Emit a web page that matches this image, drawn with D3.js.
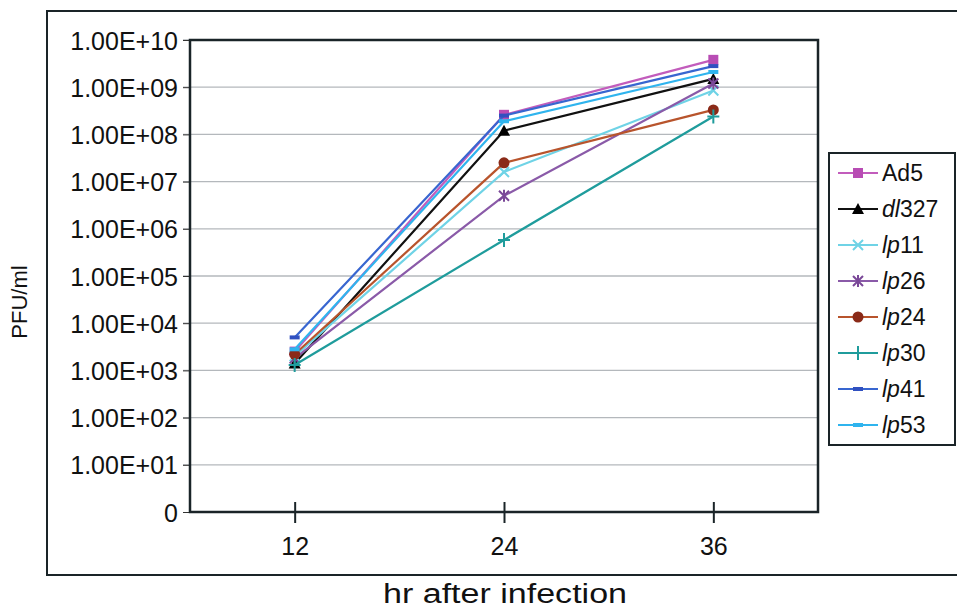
<!DOCTYPE html>
<html>
<head>
<meta charset="utf-8">
<title>PFU/ml over time</title>
<script src="https://cdn.jsdelivr.net/npm/d3@7"></script>
<style>
body { margin: 0; background: #fff; }
text { font-family: 'Liberation Sans', Arial, sans-serif; fill: #111; }
</style>
</head>
<body>
<svg id="chart" width="957" height="611"></svg>
<script>
// data
var hours = [12, 24, 36];
var seriesNames = ['Ad5', 'dl327', 'lp11', 'lp26', 'lp24', 'lp30', 'lp41', 'lp53'];
var ad5   = [2.5e3, 2.6e8, 3.8e9];
var dl327 = [1.4e3, 1.2e8, 1.5e9];
var lp11  = [2.0e3, 1.6e7, 8.5e8];
var lp26  = [1.8e3, 5.0e6, 1.2e9];
var lp24  = [2.2e3, 2.5e7, 3.3e8];
var lp30  = [1.3e3, 5.8e5, 2.4e8];
var lp41  = [5.0e3, 2.5e8, 2.8e9];
var lp53  = [2.8e3, 1.9e8, 2.1e9];
var yTicks = [1, 1e1, 1e2, 1e3, 1e4, 1e5, 1e6, 1e7, 1e8, 1e9, 1e10];

var values = [ad5, dl327, lp11, lp26, lp24, lp30, lp41, lp53];
var lineColors = ['#c25cbc', '#111111', '#6fd3e6', '#8a5aa8', '#b8542c', '#1f9c9c', '#3866d0', '#2fb4ee'];
var markColors = ['#b84cb4', '#000000', '#6fd3e6', '#7a4898', '#8a2a18', '#1f9c9c', '#3050c0', '#2fb4ee'];
var shapes = ['square', 'triangle', 'x', 'star', 'circle', 'plus', 'dash', 'dash'];

var svg = d3.select('#chart');
var pLeft = 190, pRight = 818, pTop = 40, pBottom = 512;

// outer frame
svg.append('rect')
	.attr('x', 47).attr('y', 11)
	.attr('width', 920).attr('height', 564)
	.attr('fill', 'none').attr('stroke', '#1a2428').attr('stroke-width', 2);

var x = d3.scalePoint().domain(hours).range([pLeft, pRight]).padding(0.5);
var y = d3.scaleLog().domain([1, 1e10]).range([pBottom, pTop]);

// gridlines
svg.selectAll('.grid')
	.data(yTicks.slice(1))
	.enter()
	.append('line')
	.attr('x1', pLeft - 7).attr('x2', pRight)
	.attr('y1', function(d) { return y(d); })
	.attr('y2', function(d) { return y(d); })
	.attr('stroke', '#b4b8bc').attr('stroke-width', 1.3);

// y axis
var yAxis = d3.axisLeft(y)
	.tickValues(yTicks)
	.tickSize(7)
	.tickPadding(5)
	.tickFormat(function(d) {
		if (d === 1) return '0';
		return '1.00E+' + d3.format('02d')(Math.round(Math.log10(d)));
	});
var gy = svg.append('g').attr('transform', 'translate(' + pLeft + ',0)').call(yAxis);
gy.select('.domain').remove();
gy.selectAll('line').attr('stroke', '#333');
gy.selectAll('text').style('font-size', '25px').attr('dy', '0.36em');

// x axis
var xAxis = d3.axisBottom(x).tickSizeInner(11).tickSizeOuter(0).tickPadding(14);
var gx = svg.append('g').attr('transform', 'translate(0,' + pBottom + ')').call(xAxis);
gx.select('.domain').remove();
gx.selectAll('.tick line').attr('y1', -10).attr('stroke', '#1a2428').attr('stroke-width', 2);
gx.selectAll('text').style('font-size', '25px');

// plot frame
svg.append('rect')
	.attr('x', pLeft).attr('y', pTop)
	.attr('width', pRight - pLeft).attr('height', pBottom - pTop)
	.attr('fill', 'none').attr('stroke', '#1a2428').attr('stroke-width', 2.5);

function drawMark(g, shape, color, cx, cy) {
	if (shape === 'square') {
		g.append('rect').attr('x', cx - 5).attr('y', cy - 5).attr('width', 10).attr('height', 10).attr('fill', color);
	} else if (shape === 'triangle') {
		g.append('path').attr('d', 'M' + cx + ',' + (cy - 6) + 'L' + (cx + 6) + ',' + (cy + 5) + 'L' + (cx - 6) + ',' + (cy + 5) + 'Z').attr('fill', color);
	} else if (shape === 'circle') {
		g.append('circle').attr('cx', cx).attr('cy', cy).attr('r', 5.5).attr('fill', color);
	} else {
		var p = '';
		if (shape === 'x' || shape === 'star') p += 'M' + (cx - 5) + ',' + (cy - 5) + 'L' + (cx + 5) + ',' + (cy + 5) + 'M' + (cx + 5) + ',' + (cy - 5) + 'L' + (cx - 5) + ',' + (cy + 5);
		if (shape === 'star') p += 'M' + cx + ',' + (cy - 6) + 'L' + cx + ',' + (cy + 6);
		if (shape === 'plus') p += 'M' + (cx - 6) + ',' + cy + 'L' + (cx + 6) + ',' + cy + 'M' + cx + ',' + (cy - 7) + 'L' + cx + ',' + (cy + 7);
		if (shape === 'dash') p += 'M' + (cx - 5) + ',' + cy + 'L' + (cx + 5) + ',' + cy;
		g.append('path').attr('d', p).attr('stroke', color)
			.attr('stroke-width', shape === 'dash' ? 4 : 2).attr('fill', 'none');
	}
}

var line = d3.line()
	.x(function(d, i) { return x(hours[i]); })
	.y(function(d) { return y(d); });

values.forEach(function(vals, s) {
	var g = svg.append('g');
	g.append('path')
		.attr('d', line(vals))
		.attr('fill', 'none')
		.attr('stroke', lineColors[s])
		.attr('stroke-width', 2.2);
	vals.forEach(function(v, i) {
		drawMark(g, shapes[s], markColors[s], x(hours[i]), y(v));
	});
});

// axis titles
svg.append('text')
	.attr('transform', 'translate(27,302) rotate(-90)')
	.attr('text-anchor', 'middle')
	.style('font-size', '22px')
	.text('PFU/ml');

svg.append('text')
	.attr('x', 505).attr('y', 603)
	.attr('text-anchor', 'middle')
	.attr('textLength', 244)
	.attr('lengthAdjust', 'spacingAndGlyphs')
	.style('font-size', '27px')
	.text('hr after infection');

// legend
var leg = svg.append('g');
leg.append('rect')
	.attr('x', 829).attr('y', 153)
	.attr('width', 126).attr('height', 292)
	.attr('fill', '#fff').attr('stroke', '#1a2428').attr('stroke-width', 2);

var legY = d3.scalePoint().domain(seriesNames).range([173, 425]);
seriesNames.forEach(function(name, s) {
	var ly = legY(name);
	leg.append('line')
		.attr('x1', 838).attr('x2', 878)
		.attr('y1', ly).attr('y2', ly)
		.attr('stroke', lineColors[s]).attr('stroke-width', 2);
	drawMark(leg, shapes[s], markColors[s], 858, ly);
	var t = leg.append('text')
		.attr('x', 882).attr('y', ly)
		.attr('dy', '0.36em')
		.style('font-size', '23px');
	var m = name.match(/^([a-z]+)(\d+)$/);
	if (m) {
		t.append('tspan').style('font-style', 'italic').text(m[1]);
		t.append('tspan').text(m[2]);
	} else {
		t.text(name);
	}
});
</script>
</body>
</html>
